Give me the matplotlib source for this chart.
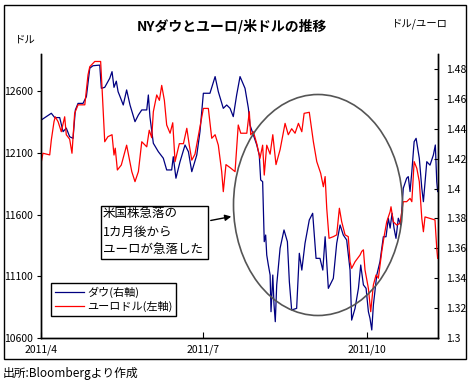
import matplotlib
matplotlib.use('Agg')
import matplotlib.pyplot as plt
from matplotlib.patches import Ellipse, Rectangle, FancyArrowPatch
import numpy as np
import pandas as pd

plt.rcParams['font.family'] = ['Noto Sans CJK JP', 'DejaVu Sans']

# days counted from 2011/4/1
start = pd.Timestamp('2011-04-01')

# NY Dow (left axis)
dow_day = np.array([0.2, 5.8, 7.7, 10.5, 12.4, 14.2, 16.1, 18.0, 19.3, 20.8, 23.6, 25.5, 27.4, 29.2,
                    33.0, 33.9, 35.8, 38.6, 39.9, 41.0, 42.3, 43.3, 44.4, 46.2, 48.1, 50.0, 52.8,
                    54.7, 56.6, 59.4, 60.3, 61.2, 63.1, 65.9, 68.7, 70.6, 73.4, 74.3, 75.8, 78.1,
                    80.9, 82.8, 84.7, 87.5, 89.3, 91.2, 94.9, 97.8, 99.6, 102.4, 104.3, 106.2,
                    108.0, 109.9, 111.8, 114.6, 116.5, 117.4, 119.3, 121.2, 122.6, 123.4, 124.5,
                    124.9, 125.4, 126.2, 126.8, 127.7, 128.7, 129.2, 130.2, 130.9, 131.6, 132.4,
                    134.3, 136.5, 138.4, 139.5, 140.8, 143.6, 145.1, 146.5, 148.3, 150.7, 152.6,
                    154.5, 156.7, 158.3, 159.6, 161.4, 164.2, 166.1, 168.0, 169.8, 171.7, 173.6,
                    174.5, 176.4, 178.3, 179.6, 181.1, 182.6, 183.9, 184.8, 185.8, 186.7, 188.6,
                    190.4, 192.3, 193.8, 195.1, 196.1, 197.2, 198.3, 199.4, 200.7, 202.1, 203.5,
                    205.4, 206.3, 207.3, 208.3, 209.6, 210.7, 212.5, 213.9, 214.8, 216.7, 218.5,
                    220.4, 221.5, 222.3, 222.8])
dow = np.array([12366, 12420, 12385, 12385, 12271, 12300, 12230, 12217, 12447, 12500, 12500, 12555,
                12785, 12805, 12810, 12622, 12630, 12703, 12757, 12630, 12680, 12595, 12555, 12487,
                12609, 12487, 12352, 12406, 12447, 12447, 12568, 12390, 12177, 12109, 12056, 11961,
                11961, 12068, 11894, 12028, 12163, 12109, 11947, 12082, 12271, 12582, 12582, 12717,
                12595, 12460, 12487, 12460, 12393, 12568, 12717, 12622, 12460, 12325, 12244, 12163,
                12082, 11880, 11866, 11650, 11380, 11434, 11272, 11191, 11110, 10813, 11110, 10867,
                10732, 11030, 11327, 11475, 11380, 11056, 10827, 10840, 11286, 11150, 11367, 11556,
                11610, 11245, 11245, 11150, 11420, 11002, 11083, 11367, 11515, 11434, 11394, 11150,
                10745, 10840, 11002, 11191, 11030, 11002, 10813, 10759, 10665, 10867, 11110, 11218,
                11420, 11420, 11570, 11490, 11610, 11490, 11407, 11570, 11515, 11813, 11894, 11907,
                11786, 11947, 12190, 12217, 12055, 11813, 11704, 12028, 12000, 12082, 12163, 11866,
                11786])

# EUR/USD (right axis)
eur_day = np.array([0.2, 1.1, 4.9, 5.8, 7.3, 8.0, 9.6, 11.4, 13.3, 14.2, 16.1, 17.4, 18.9, 20.8,
                    24.6, 26.4, 27.4, 30.2, 33.5, 34.3, 35.8, 37.6, 39.9, 41.0, 41.7, 42.9, 45.1,
                    48.1, 51.0, 52.8, 54.7, 56.6, 59.4, 60.8, 62.2, 63.1, 65.0, 66.5, 67.8, 69.3,
                    70.6, 72.5, 74.0, 75.3, 77.7, 80.0, 81.9, 83.3, 84.7, 86.5, 89.3, 91.2, 94.0,
                    95.9, 97.8, 99.6, 101.5, 102.4, 103.9, 106.2, 109.0, 110.8, 112.2, 115.6,
                    117.0, 117.8, 119.3, 121.2, 123.0, 124.5, 125.4, 126.8, 128.7, 130.2, 132.0,
                    134.3, 137.1, 138.9, 140.8, 142.7, 144.6, 146.5, 147.8, 150.7, 153.0, 154.9,
                    157.1, 158.6, 159.6, 160.5, 161.8, 164.2, 166.1, 167.6, 168.9, 170.8, 172.6,
                    173.6, 174.5, 176.4, 179.2, 180.2, 181.1, 182.0, 183.9, 185.2, 186.7, 188.2,
                    189.5, 191.4, 192.7, 194.2, 196.1, 196.6, 197.9, 199.8, 201.7, 203.5, 205.4,
                    207.3, 208.3, 209.6, 211.1, 212.5, 213.9, 214.8, 215.7, 218.5, 221.3, 222.3,
                    222.8])
eur = np.array([1.418, 1.4236, 1.4225, 1.4325, 1.4447, 1.448, 1.4447, 1.438, 1.448, 1.436, 1.433,
                1.4236, 1.4503, 1.456, 1.456, 1.476, 1.4815, 1.485, 1.485, 1.467, 1.4313, 1.4347,
                1.436, 1.4224, 1.427, 1.4124, 1.4157, 1.429, 1.4113, 1.4046, 1.4113, 1.4313,
                1.4279, 1.439, 1.434, 1.4514, 1.4626, 1.459, 1.469, 1.459, 1.4425, 1.437, 1.444,
                1.418, 1.43, 1.43, 1.4403, 1.429, 1.419, 1.423, 1.4414, 1.4536, 1.4536, 1.4336,
                1.436, 1.429, 1.4113, 1.3979, 1.416, 1.414, 1.4113, 1.4425, 1.437, 1.437, 1.4514,
                1.436, 1.438, 1.43, 1.4202, 1.429, 1.409, 1.429, 1.423, 1.436, 1.416, 1.426,
                1.4436, 1.436, 1.44, 1.437, 1.4436, 1.438, 1.4503, 1.451, 1.4313, 1.418, 1.4102,
                1.4012, 1.408, 1.3868, 1.3667, 1.3678, 1.369, 1.3868, 1.3778, 1.369, 1.3678,
                1.351, 1.3466, 1.351, 1.3555, 1.358, 1.359, 1.3455, 1.3332, 1.3176, 1.3355,
                1.3422, 1.34, 1.3577, 1.3678, 1.3778, 1.3845, 1.3878, 1.3778, 1.3756, 1.3767,
                1.3912, 1.3912, 1.3934, 1.3912, 1.418, 1.4135, 1.4046, 1.38, 1.3711, 1.381, 1.38,
                1.379, 1.36, 1.3533])

tick_dates = ['2011-04-01', '2011-07-01', '2011-10-01']
tick_labels = ['2011/4', '2011/7', '2011/10']
left_ticks = [10600, 11100, 11600, 12100, 12600]
right_ticks = [1.30, 1.32, 1.34, 1.36, 1.38, 1.40, 1.42, 1.44, 1.46, 1.48]
right_labels = ['1.3', '1.32', '1.34', '1.36', '1.38', '1.4', '1.42', '1.44', '1.46', '1.48']

W, H = 472, 385
fig = plt.figure(figsize=(W / 100, H / 100), dpi=100)
ax = fig.add_axes([41 / W, 1 - 338 / H, 397 / W, 284 / H])
ax2 = ax.twinx()

l1, = ax.plot(dow_day, dow, color='#000080', lw=0.9, label='ダウ(右軸)')
l2, = ax2.plot(eur_day, eur, color='#ff0000', lw=0.9, label='ユーロドル(左軸)')

ax.set_xlim(0, 223)
ax.set_ylim(10600, 12900)
ax2.set_ylim(1.30, 1.49)

tick_pos = [(pd.Timestamp(d) - start).days for d in tick_dates]
ax.set_xticks(tick_pos)
ax.set_xticklabels(tick_labels)
ax.set_yticks(left_ticks)
ax2.set_yticks(right_ticks)
ax2.set_yticklabels(right_labels)

for a in (ax, ax2):
    a.spines['top'].set_visible(False)
    for s in a.spines.values():
        s.set_linewidth(1.0)
ax.tick_params(axis='x', direction='in', length=4, labelsize=7.5, pad=5)
ax.tick_params(axis='y', direction='out', length=3, labelsize=7.5, pad=3)
ax2.tick_params(axis='y', direction='in', length=3, labelsize=7.5, pad=6)

leg = ax2.legend(handles=[l1, l2], loc='lower left', bbox_to_anchor=(0.025, 0.077),
                 borderaxespad=0, fontsize=8, fancybox=False, edgecolor='black', framealpha=1,
                 handlelength=2.6, borderpad=0.35, labelspacing=0.3, handletextpad=0.3)
leg.get_frame().set_linewidth(1.0)

fig.text(232 / W, 1 - 27 / H, 'NYダウとユーロ/米ドルの推移', ha='center', va='center',
         fontsize=10, fontweight='bold')
fig.text(15 / W, 1 - 40 / H, 'ドル', fontsize=7.5, va='center')
fig.text(392 / W, 1 - 24 / H, 'ドル/ユーロ', fontsize=7.5, va='center')

# outer frame
fig.add_artist(Rectangle((4 / W, 1 - 359 / H), 462 / W, 354 / H, transform=fig.transFigure,
                         fill=False, ec='black', lw=1.0))

# circle around the fall
fig.add_artist(Ellipse((318 / W, 1 - 205 / H), 169 / W, 221 / H, transform=fig.transFigure,
                       fill=False, ec='#555555', lw=1.2))

# note box + arrow
fig.add_artist(Rectangle((101 / W, 1 - 259 / H), 107 / W, 53 / H, transform=fig.transFigure,
                         fc='white', ec='black', lw=1.0))
for txt, yy in zip(['米国株急落の', '1カ月後から', 'ユーロが急落した'], [214, 232, 249]):
    fig.text(103 / W, 1 - yy / H, txt, fontsize=9, va='center')
fig.add_artist(FancyArrowPatch((208 / W, 1 - 221 / H), (234 / W, 1 - 216 / H),
                               transform=fig.transFigure, arrowstyle='-|>', mutation_scale=9,
                               color='black', lw=1.0))

fig.text(3 / W, 1 - 373 / H, '出所:Bloombergより作成', fontsize=8.5, va='center')

fig.savefig('out.png', dpi=100)
